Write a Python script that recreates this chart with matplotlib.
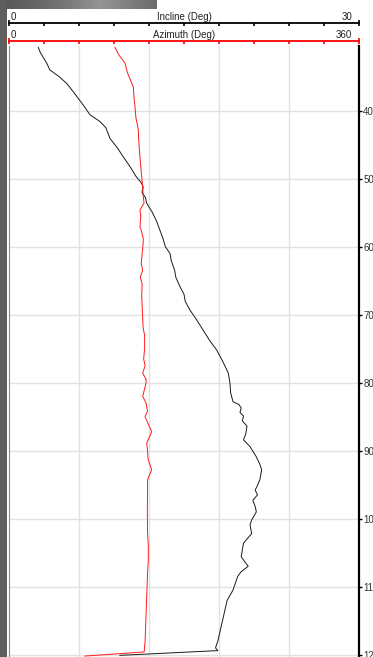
import matplotlib
matplotlib.use("Agg")
import matplotlib.pyplot as plt
import numpy as np
from matplotlib.patches import Rectangle
from matplotlib.transforms import blended_transform_factory

plt.rcParams['font.family'] = ['Liberation Sans', 'DejaVu Sans']

# incline survey (depth, degrees)
inc_depth = [30.7, 31.5, 33.0, 34.0, 35.0, 36.0, 37.2, 38.2, 39.5, 40.6,
             41.6, 42.5, 44.1, 45.5, 46.8, 48.3, 49.7, 50.5, 51.2, 52.0,
             52.8, 53.6, 55.0, 56.3, 57.6, 58.8, 60.0, 61.0, 62.0, 63.5,
             64.5, 65.9, 67.0, 68.0, 69.3, 70.8, 72.3, 73.8, 75.2, 76.8,
             78.6, 80.1, 81.5, 82.8, 83.2, 83.7, 84.4, 84.9, 85.6, 86.4,
             87.5, 88.4, 89.4, 90.9, 92.0, 92.8, 94.3, 95.1, 95.8, 96.5,
             97.3, 98.2, 99.0, 100.2, 100.9, 102.2, 103.0, 103.6, 104.6, 105.6,
             106.3, 107.0, 107.8, 108.5, 109.5, 110.5, 112.0, 113.5, 115.0, 116.5,
             118.0, 119.0, 119.4, 120.1]
incline = [2.51, 2.7, 3.23, 3.5, 4.3, 4.95, 5.5, 5.94, 6.5, 6.94,
           7.8, 8.3, 8.66, 9.3, 9.8, 10.4, 10.9, 11.3, 11.5, 11.4,
           11.7, 11.8, 12.3, 12.66, 12.94, 13.2, 13.4, 13.8, 13.9, 14.2,
           14.3, 14.66, 15.0, 15.1, 15.5, 16.1, 16.65, 17.2, 17.8, 18.3,
           18.8, 18.94, 19.0, 19.2, 19.7, 19.9, 19.8, 20.1, 20.0, 20.4,
           20.3, 20.1, 20.66, 21.2, 21.5, 21.66, 21.5, 21.3, 21.1, 21.3,
           20.9, 21.1, 21.2, 20.8, 20.66, 20.8, 20.4, 20.1, 20.0, 19.9,
           20.2, 20.5, 19.9, 19.6, 19.4, 19.2, 18.7, 18.5, 18.3, 18.1,
           17.9, 17.7, 17.9, 9.5]

# azimuth survey (depth, degrees)
az_depth = [30.7, 31.8, 33.0, 34.5, 36.5, 38.0, 39.4, 41.0, 42.8, 44.5,
            46.8, 49.0, 51.2, 52.5, 53.6, 54.6, 55.5, 57.1, 57.5, 58.8,
            59.5, 61.0, 62.5, 63.5, 64.5, 65.5, 67.0, 69.0, 70.5, 72.0,
            73.0, 75.0, 76.5, 77.5, 78.6, 79.5, 80.1, 82.0, 83.0, 84.2,
            85.0, 86.0, 87.2, 88.9, 90.0, 91.2, 92.8, 94.3, 96.0, 99.2,
            102.0, 104.0, 106.1, 108.0, 110.0, 112.0, 114.0, 116.0, 118.0, 119.6,
            120.2]
azimuth = [109.0, 113.0, 119.3, 122.0, 127.9, 128.5, 129.6, 130.5, 133.0, 133.5,
           134.7, 136.0, 137.5, 138.0, 138.9, 134.7, 135.5, 134.7, 135.8, 138.1,
           138.0, 137.0, 136.0, 137.5, 135.0, 137.0, 136.5, 137.0, 137.5, 138.0,
           139.5, 139.5, 138.5, 140.0, 137.5, 141.0, 140.9, 137.5, 141.0, 142.5,
           139.9, 143.0, 146.8, 141.6, 142.5, 143.0, 146.8, 142.5, 142.5, 142.3,
           142.5, 143.3, 143.3, 142.5, 142.0, 141.5, 141.0, 140.5, 140.0, 139.0,
           78.0]

depth_ticks = [40, 50, 60, 70, 80, 90, 100, 110, 120]

W, H = 373, 657
fig = plt.figure(figsize=(W / 100, H / 100), dpi=100)
fig.patch.set_facecolor('white')

# window frame bits on the left and top
fig.add_artist(Rectangle((0, 0), 7 / W, 1, transform=fig.transFigure,
                         facecolor='#5e5e5e', edgecolor='none'))
grad_ax = fig.add_axes([0, 1 - 9 / H, 157 / W, 9 / H])
grad = np.concatenate([np.linspace(0.33, 0.45, 60), np.linspace(0.45, 0.58, 40),
                       np.linspace(0.58, 0.42, 57)])
grad_ax.imshow(np.tile(grad, (9, 1)), cmap='gray', vmin=0, vmax=1, aspect='auto')
grad_ax.axis('off')

left = 9 / W
width = 350 / W
top_px = 46
ax = fig.add_axes([left, 0, width, (H - top_px) / H])
ax.plot(incline, inc_depth, color='#1a1a1a', lw=0.7)
ax.set_xlim(0, 30)
ax.set_ylim(120.34, 30.49)

ax2 = ax.twiny()
ax2.plot(azimuth, az_depth, color='#ff1a1a', lw=0.7)
ax2.set_xlim(0, 360)
ax2.set_xticks([])
for s in ax2.spines.values():
    s.set_visible(False)

ax.set_xticks([6, 12, 18, 24])
ax.set_yticks(depth_ticks)
ax.grid(True, color='#e2e2e2', lw=1)
ax.tick_params(axis='x', length=0, labelbottom=False)
ax.yaxis.tick_right()
ax.tick_params(axis='y', direction='out', length=2, width=1, labelsize=7,
               labelcolor='#333333', pad=1)
ax.spines['top'].set_visible(False)
ax.spines['bottom'].set_visible(False)
ax.spines['left'].set_color('#8a8a8a')
ax.spines['right'].set_color('black')
ax.spines['right'].set_linewidth(1.6)


def scale_bar(y_px, lo, hi, color, title):
    bar = fig.add_axes([left, 1 - y_px / H, width, 4 / H])
    bar.set_xlim(lo, hi)
    bar.patch.set_visible(False)
    for name, s in bar.spines.items():
        s.set_visible(name == 'bottom')
    bar.spines['bottom'].set_color(color)
    bar.spines['bottom'].set_linewidth(1.3)
    bar.set_yticks([])
    bar.set_xticks(np.linspace(lo, hi, 11))
    bar.set_xticks([lo, hi], minor=True)
    bar.xaxis.remove_overlapping_locs = False
    bar.tick_params(axis='x', which='major', direction='out', length=2.3,
                    width=1.2, color=color, labelbottom=False)
    bar.tick_params(axis='x', which='minor', direction='in', length=2.3,
                    width=1.2, color=color)
    base = 1 - (y_px - 3) / H
    tr = blended_transform_factory(bar.transData, fig.transFigure)
    bar.text(lo + (hi - lo) * 0.004, base, '0', transform=tr, fontsize=7,
             ha='left', va='baseline', color='#222222')
    bar.text(hi - (hi - lo) * 0.019, base, str(hi), transform=tr, fontsize=7,
             ha='right', va='baseline', color='#222222')
    bar.text((lo + hi) / 2, base, title, transform=tr, fontsize=7,
             ha='center', va='baseline', color='#222222')


scale_bar(22.5, 0, 30, 'black', 'Incline (Deg)')
scale_bar(40.7, 0, 360, 'red', 'Azimuth (Deg)')

fig.savefig('out.png', dpi=100)
